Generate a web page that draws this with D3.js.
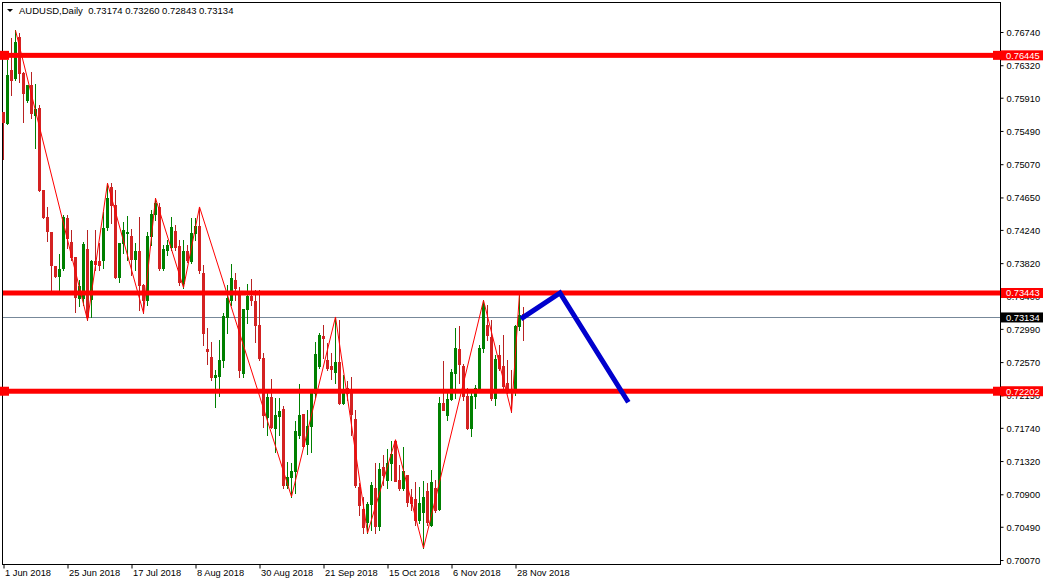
<!DOCTYPE html>
<html><head><meta charset="utf-8">
<script src="https://cdn.jsdelivr.net/npm/d3@7"></script>
<style>
html,body{margin:0;padding:0;background:#fff;}
svg{display:block;font-family:"Liberation Sans",Arial,sans-serif;}
</style></head><body>
<svg id="chart" width="1043" height="584"></svg>
<script>
const titleText = "AUDUSD,Daily  0.73174 0.73260 0.72843 0.73134";
const openP = [0.7573,0.7559,0.7626,0.7616,0.7668,0.7622,0.7588,0.7607,0.7569,0.7578,
0.7474,0.7440,0.7421,0.7378,0.7366,0.7376,0.7439,0.7409,0.7390,0.7338,
0.7338,0.7400,0.7337,0.7385,0.7385,0.7386,0.7428,0.7478,0.7455,0.7364,
0.7407,0.7420,0.7416,0.7387,0.7397,0.7354,0.7335,0.7416,0.7444,0.7453,
0.7376,0.7399,0.7402,0.7422,0.7404,0.7357,0.7397,0.7385,0.7420,0.7429,
0.7370,0.7274,0.7263,0.7238,0.7239,0.7260,0.7314,0.7335,0.7361,0.7344,
0.7243,0.7324,0.7341,0.7334,0.7304,0.7262,0.7188,0.7213,0.7174,0.7189,
0.7198,0.7102,0.7112,0.7119,0.7165,0.7191,0.7154,0.7176,0.7218,0.7252,
0.7290,0.7260,0.7252,0.7244,0.7257,0.7205,0.7224,0.7218,0.7185,0.7099,
0.7072,0.7055,0.7078,0.7098,0.7050,0.7124,0.7108,0.7130,0.7157,0.7108,
0.7098,0.7115,0.7087,0.7084,0.7058,0.7068,0.7094,0.7051,0.7098,0.7071,
0.7205,0.7190,0.7210,0.7243,0.7274,0.7252,0.7214,0.7174,0.7214,0.7224,
0.7275,0.7304,0.7289,0.7212,0.7266,0.7252,0.7231,0.7223,0.7219,0.7303,
0.73174];
const highP = [0.7573,0.7639,0.7666,0.7676,0.7673,0.7623,0.7607,0.7623,0.7608,0.7582,
0.7474,0.7453,0.7421,0.7378,0.7393,0.7443,0.7443,0.7424,0.7390,0.7361,
0.7409,0.7424,0.7386,0.7424,0.7407,0.7447,0.7483,0.7483,0.7474,0.7407,
0.7434,0.7442,0.7425,0.7407,0.7440,0.7356,0.7421,0.7449,0.7464,0.7458,
0.7405,0.7411,0.7440,0.7430,0.7411,0.7411,0.7405,0.7439,0.7439,0.7453,
0.7380,0.7300,0.7282,0.7247,0.7285,0.7319,0.7354,0.7381,0.7370,0.7352,
0.7324,0.7356,0.7362,0.7348,0.7348,0.7268,0.7218,0.7236,0.7212,0.7212,
0.7201,0.7131,0.7130,0.7183,0.7229,0.7191,0.7197,0.7218,0.7282,0.7294,
0.7304,0.7281,0.7268,0.7314,0.7310,0.7241,0.7233,0.7238,0.7197,0.7104,
0.7086,0.7080,0.7105,0.7130,0.7130,0.7140,0.7147,0.7157,0.7159,0.7127,
0.7150,0.7115,0.7097,0.7105,0.7099,0.7107,0.7104,0.7121,0.7108,0.7213,
0.7258,0.7219,0.7248,0.7300,0.7303,0.7254,0.7224,0.7218,0.7228,0.7279,
0.7335,0.7329,0.7310,0.7266,0.7279,0.7291,0.7260,0.7247,0.7304,0.7344,
0.73260];
const lowP = [0.7513,0.7558,0.7594,0.7613,0.7611,0.7560,0.7586,0.7565,0.7527,0.7473,
0.7439,0.7410,0.7348,0.7364,0.7348,0.7373,0.7401,0.7386,0.7320,0.7328,
0.7329,0.7310,0.7314,0.7373,0.7373,0.7376,0.7424,0.7433,0.7363,0.7358,
0.7395,0.7386,0.7367,0.7373,0.7323,0.7319,0.7329,0.7405,0.7436,0.7373,
0.7373,0.7392,0.7399,0.7399,0.7354,0.7351,0.7383,0.7382,0.7411,0.7370,
0.7279,0.7255,0.7234,0.7200,0.7214,0.7251,0.7294,0.7329,0.7335,0.7238,
0.7238,0.7306,0.7329,0.7282,0.7260,0.7175,0.7165,0.7174,0.7143,0.7165,
0.7098,0.7098,0.7087,0.7092,0.7161,0.7150,0.7141,0.7143,0.7213,0.7249,
0.7262,0.7247,0.7236,0.7231,0.7204,0.7204,0.7209,0.7165,0.7099,0.7064,
0.7041,0.7041,0.7045,0.7041,0.7045,0.7102,0.7098,0.7108,0.7107,0.7095,
0.7095,0.7075,0.7070,0.7051,0.7054,0.7022,0.7051,0.7050,0.7068,0.7070,
0.7197,0.7184,0.7209,0.7212,0.7231,0.7209,0.7172,0.7164,0.7199,0.7219,
0.7270,0.7285,0.7209,0.7203,0.7247,0.7222,0.7218,0.7194,0.7216,0.7298,
0.72843];
const closeP = [0.7560,0.7620,0.7613,0.7661,0.7622,0.7597,0.7607,0.7572,0.7577,0.7474,
0.7440,0.7422,0.7380,0.7366,0.7375,0.7440,0.7414,0.7390,0.7339,0.7353,
0.7406,0.7314,0.7385,0.7381,0.7380,0.7426,0.7464,0.7455,0.7364,0.7407,
0.7424,0.7421,0.7387,0.7397,0.7354,0.7335,0.7416,0.7444,0.7458,0.7376,
0.7400,0.7405,0.7428,0.7402,0.7358,0.7397,0.7386,0.7420,0.7429,0.7373,
0.7294,0.7271,0.7238,0.7241,0.7260,0.7315,0.7338,0.7363,0.7351,0.7247,
0.7324,0.7341,0.7335,0.7304,0.7262,0.7190,0.7213,0.7175,0.7190,0.7195,
0.7102,0.7112,0.7119,0.7170,0.7190,0.7151,0.7176,0.7218,0.7267,0.7291,
0.7287,0.7249,0.7248,0.7257,0.7205,0.7218,0.7218,0.7191,0.7102,0.7076,
0.7049,0.7078,0.7102,0.7050,0.7122,0.7115,0.7130,0.7141,0.7107,0.7098,
0.7119,0.7080,0.7079,0.7058,0.7079,0.7087,0.7055,0.7105,0.7070,0.7205,
0.7197,0.7210,0.7245,0.7275,0.7255,0.7214,0.7174,0.7214,0.7224,0.7275,
0.7330,0.7291,0.7212,0.7261,0.7249,0.7227,0.7223,0.7219,0.7303,0.7317,
0.73134];
const xTickIndex = [0,16,32,48,64,80,96,112,128];
const xTickLabels = ["1 Jun 2018","25 Jun 2018","17 Jul 2018","8 Aug 2018","30 Aug 2018","21 Sep 2018","15 Oct 2018","6 Nov 2018","28 Nov 2018"];
const yTickValues = [0.76740,0.76320,0.75910,0.75490,0.75070,0.74650,0.74240,0.73820,0.73400,0.72990,0.72570,0.72150,0.71740,0.71320,0.70900,0.70490,0.70070];
const levelPrices = [0.76445,0.73443,0.72202];
const levelLeftMarker = [true,false,true];
const bidPrice = 0.73134;
const zigzagIndex = [3,21,26,35,38,45,49,72,83,91,98,105,120,127,129];
const zigzagType = ["H","L","H","L","H","L","H","L","H","L","H","L","H","L","H"];
const projIndex = [130,139.25,156];
const projPrice = [0.73134,0.73443,0.7209];

const svg = d3.select("#chart");
const x = d3.scaleLinear().domain([0,130]).range([3,523]);
const y = d3.scaleLinear().domain([0.70070,0.76740]).range([560,32]);
const FS = "9.3px";
const bull = "#008000", bear = "#d42222", bearWick = "#b82222";

svg.append("rect").attr("width",1043).attr("height",584).attr("fill","#fff");

svg.append("rect").attr("x",2.5).attr("y",2.5).attr("width",998).attr("height",562)
  .attr("fill","none").attr("stroke","#000").attr("stroke-width",1);

svg.append("line").attr("x1",3).attr("x2",1000).attr("y1",Math.round(y(bidPrice))+0.5).attr("y2",Math.round(y(bidPrice))+0.5)
  .attr("stroke","#778899").attr("stroke-width",1);

const bars = d3.range(openP.length).map(i=>({i,o:openP[i],h:highP[i],l:lowP[i],c:closeP[i]}));
const g = svg.append("g").attr("shape-rendering","crispEdges");
g.selectAll("rect.wick").data(bars).join("rect").attr("class","wick")
  .attr("x",d=>Math.round(x(d.i)))
  .attr("y",d=>Math.round(y(d.h)))
  .attr("width",1)
  .attr("height",d=>Math.round(y(d.l))-Math.round(y(d.h))+1)
  .attr("fill",d=>d.c>=d.o?bull:bearWick);
g.selectAll("rect.body").data(bars).join("rect").attr("class","body")
  .attr("x",d=>Math.round(x(d.i))-1)
  .attr("y",d=>Math.round(y(Math.max(d.o,d.c))))
  .attr("width",3)
  .attr("height",d=>Math.max(1,Math.round(y(Math.min(d.o,d.c)))-Math.round(y(Math.max(d.o,d.c)))+1))
  .attr("fill",d=>d.c>=d.o?bull:bear);

const zz = zigzagIndex.map((idx,k)=>({i:idx,p:zigzagType[k]==="H"?highP[idx]:lowP[idx]}));
svg.append("path").datum(zz)
  .attr("d",d3.line().x(d=>x(d.i)+0.5).y(d=>y(d.p)))
  .attr("fill","none").attr("stroke","#ff0000").attr("stroke-width",1);

levelPrices.forEach((p,k)=>{
  const yy = y(p);
  svg.append("rect").attr("x",levelLeftMarker[k]?0:3).attr("y",yy-2.5).attr("width",(levelLeftMarker[k]?1000:997)).attr("height",5).attr("fill","#ff0000");
  if(levelLeftMarker[k]){
    svg.append("rect").attr("x",0).attr("y",yy-4.5).attr("width",9).attr("height",9).attr("fill","#ff0000");
    svg.append("rect").attr("x",993).attr("y",yy-4.5).attr("width",8).attr("height",9).attr("fill","#ff0000");
  }
});

const proj = projIndex.map((idx,k)=>({i:idx,p:projPrice[k]}));
svg.append("path").datum(proj)
  .attr("d",d3.line().x(d=>x(d.i)).y(d=>y(d.p)))
  .attr("fill","none").attr("stroke","#0000cd").attr("stroke-width",5).attr("stroke-linejoin","miter").attr("stroke-linecap","square");

const ya = svg.append("g").attr("transform","translate(1000.5,0)")
  .call(d3.axisRight(y).tickValues(yTickValues).tickFormat(d3.format(".5f")).tickSizeInner(3).tickSizeOuter(0).tickPadding(3));
ya.select(".domain").remove();
ya.selectAll("text").attr("font-size",FS).attr("font-family","Liberation Sans, Arial, sans-serif").attr("fill","#000").attr("dy","0.36em");
ya.selectAll("line").attr("stroke","#000");

const xa = svg.append("g").attr("transform","translate(0.5,564.5)")
  .call(d3.axisBottom(x).tickValues(xTickIndex).tickFormat((d,k)=>xTickLabels[k]).tickSizeInner(4).tickSizeOuter(0).tickPadding(1));
xa.select(".domain").remove();
xa.selectAll("text").attr("font-size",FS).attr("font-family","Liberation Sans, Arial, sans-serif").attr("fill","#000").attr("text-anchor","start").attr("dx","1");
xa.selectAll("line").attr("stroke","#000");

function priceTag(p,bg){
  const yy = y(p);
  svg.append("rect").attr("x",1001).attr("y",yy-5).attr("width",42).attr("height",10).attr("fill",bg);
  svg.append("text").attr("x",1006).attr("y",yy).attr("dy","0.36em").attr("font-size",FS).attr("fill","#fff").text(d3.format(".5f")(p));
}
levelPrices.forEach(p=>priceTag(p,"#ff0000"));
priceTag(bidPrice,"#000");

svg.append("path").attr("d","M7,9 L13,9 L10,12 Z").attr("fill","#000");
svg.append("text").attr("x",19).attr("y",14).attr("font-size","9.5px").attr("fill","#000")
  .style("white-space","pre").text(titleText);
</script>
</body></html>
